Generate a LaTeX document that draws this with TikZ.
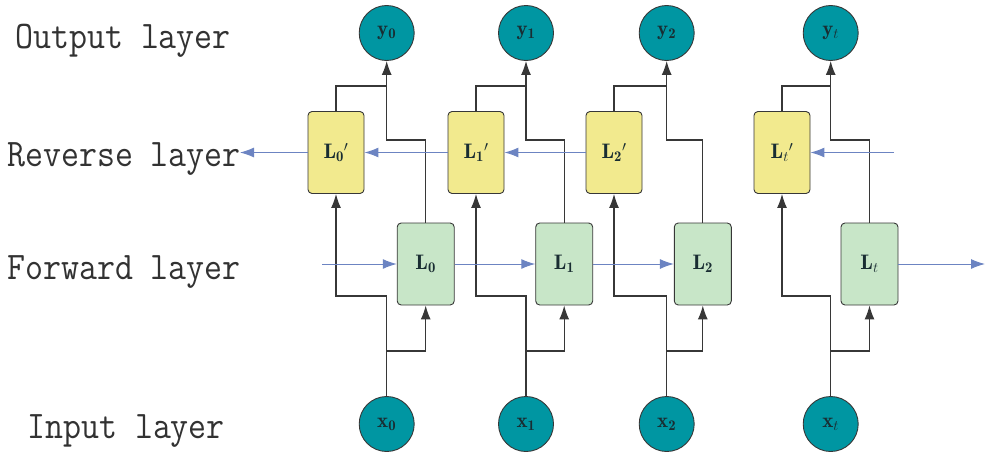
\documentclass[tikz,border=0pt]{standalone}
\usepackage{fontspec}
\usetikzlibrary{arrows.meta}
\definecolor{tealc}{RGB}{0,150,162}
\definecolor{yelc}{RGB}{242,234,142}
\definecolor{grnc}{RGB}{200,230,200}
\definecolor{bluec}{RGB}{108,132,194}
\definecolor{linec}{RGB}{55,55,55}
\definecolor{txtc}{RGB}{25,45,50}
\definecolor{lblc}{RGB}{50,50,50}
\tikzset{
  circ/.style={circle, draw=linec, line width=0.9pt, fill=tealc, minimum size=55pt, inner sep=0pt, text=txtc, font=\fontsize{21}{24}\selectfont},
  rbox/.style={draw=linec, line width=0.9pt, rounded corners=4pt, fill=yelc, minimum width=56pt, minimum height=82pt, inner sep=0pt, text=txtc, font=\fontsize{21}{24}\selectfont},
  fbox/.style={draw=linec, line width=0.9pt, rounded corners=4pt, fill=grnc, minimum width=57pt, minimum height=82pt, inner sep=0pt, text=txtc, font=\fontsize{21}{24}\selectfont},
  gl/.style={draw=linec, line width=1.2pt},
  ga/.style={gl, -{Latex[length=14pt,width=10pt]}},
  bl/.style={draw=bluec, line width=1pt, -{Latex[length=14pt,width=10pt]}},
  lbl/.style={anchor=base west, inner sep=0pt, text=lblc, font=\fontsize{34.9}{38}\ttfamily}
}
\newcommand{\tall}[1]{\scalebox{1}[1.12]{#1}}
\begin{document}
\begin{tikzpicture}[x=1pt,y=-1pt]
\useasboundingbox (0,0) rectangle (991,458);

% layer labels
\node[lbl] (lo) at (15,48) {\tall{Output layer}};
\node[lbl] (lr) at (7,166) {\tall{Reverse layer}};
\node[lbl] (lf) at (7,279) {\tall{Forward layer}};
\node[lbl] (li) at (27,438) {\tall{Input layer}};

% output nodes
\node[circ] (y0) at (386.7,33) {$\mathbf{y}_{\mathbf{0}}$};
\node[circ] (y1) at (526,33) {$\mathbf{y}_{\mathbf{1}}$};
\node[circ] (y2) at (666.7,33) {$\mathbf{y}_{\mathbf{2}}$};
\node[circ] (yt) at (830.7,33) {$\mathbf{y}_{t}$};

% input nodes
\node[circ] (x0) at (386.7,424) {$\mathbf{x}_{\mathbf{0}}$};
\node[circ] (x1) at (526,424) {$\mathbf{x}_{\mathbf{1}}$};
\node[circ] (x2) at (666.7,424) {$\mathbf{x}_{\mathbf{2}}$};
\node[circ] (xt) at (830.7,424) {$\mathbf{x}_{t}$};

% reverse boxes
\node[rbox] (R0) at (336,152.5) {$\mathbf{L}_{\mathbf{0}}{}'$};
\node[rbox] (R1) at (476,152.5) {$\mathbf{L}_{\mathbf{1}}{}'$};
\node[rbox] (R2) at (614,152.5) {$\mathbf{L}_{\mathbf{2}}{}'$};
\node[rbox] (Rt) at (782,152.5) {$\mathbf{L}_{t}{}'$};

% forward boxes
\node[fbox] (F0) at (425.7,264) {$\mathbf{L}_{\mathbf{0}}$};
\node[fbox] (F1) at (564.2,264) {$\mathbf{L}_{\mathbf{1}}$};
\node[fbox] (F2) at (702.8,264) {$\mathbf{L}_{\mathbf{2}}$};
\node[fbox] (Ft) at (869.5,264) {$\mathbf{L}_{t}$};

% junction coordinates
\foreach \c/\X in {0/386.7, 1/526, 2/666.7, t/830.7} {
  \coordinate (tj\c) at (\X,86);
  \coordinate (mj\c) at (\X,140);
  \coordinate (lj\c) at (\X,296);
  \coordinate (bj\c) at (\X,351);
}

% black connectors
\foreach \c in {0,1,2,t} {
  \draw[gl] (R\c.north) |- (tj\c);
  \draw[ga] (F\c.north) |- (mj\c) -- (y\c.south);
  \draw[ga] (x\c.north) -- (bj\c) -| (F\c.south);
  \draw[ga] (bj\c) -- (lj\c) -| (R\c.south);
}

% blue arrows - reverse
\coordinate (revend) at (240,152.5);
\coordinate (revstart) at (894,152.5);
\draw[bl] (R0.west) -- (revend);
\draw[bl] (R1.west) -- (R0.east);
\draw[bl] (R2.west) -- (R1.east);
\draw[bl] (revstart) -- (Rt.east);

% blue arrows - forward
\coordinate (fwdstart) at (322,264);
\coordinate (fwdend) at (985,264);
\draw[bl] (fwdstart) -- (F0.west);
\draw[bl] (F0.east) -- (F1.west);
\draw[bl] (F1.east) -- (F2.west);
\draw[bl] (Ft.east) -- (fwdend);
\end{tikzpicture}
\end{document}
